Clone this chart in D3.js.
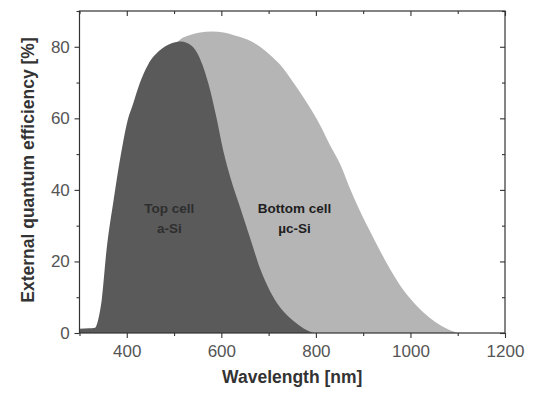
<!DOCTYPE html>
<html>
<head>
<meta charset="utf-8">
<script src="https://cdn.jsdelivr.net/npm/d3@7"></script>
<style>
  body { margin: 0; background: #fff; }
  svg { display: block; font-family: "Liberation Sans", Arial, sans-serif; }
</style>
</head>
<body>
<svg id="eqe-svg" width="533" height="394"></svg>
<script>
// wavelength [nm] and EQE [%]
var topWl  = [300, 320, 333, 340, 347, 357, 372, 389, 403, 412, 428, 445, 470, 495, 515, 535, 548, 560, 572, 590, 604, 619, 640, 661, 682, 700, 718, 735, 752, 775, 794];
var topEqe = [1.2, 1.3, 1.5, 4, 9.2, 23, 37, 51, 60, 63.5, 70, 75, 79, 81, 81.5, 80.5, 78.5, 75, 70, 60, 51, 43.5, 35, 26.5, 18, 12.5, 8.3, 5.5, 3.4, 1.2, 0];

var botWl  = [300, 330, 345, 370, 410, 450, 500, 513, 534, 555, 580, 605, 625, 655, 682, 705, 725, 756, 784, 809, 830, 852, 869, 890, 922, 958, 985, 1014, 1040, 1065, 1085, 1100];
var botEqe = [0.5, 1, 5, 30, 55, 70, 80, 82, 83.3, 84, 84.3, 84, 83.3, 82, 80, 77.5, 74.9, 69.3, 63.7, 58.1, 52.5, 47, 41.4, 35, 26.5, 17.6, 12, 7.5, 4.3, 2, 0.7, 0];

var xMajor = [400, 600, 800, 1000, 1200];
var xMinor = [300, 500, 700, 900, 1100];
var yMajor = [0, 20, 40, 60, 80];
var yMinor = [10, 30, 50, 70, 90];

var svg = d3.select("#eqe-svg"),
	margin = { top: 11, right: 28, bottom: 61, left: 79.5 },
	width = +svg.attr("width") - margin.left - margin.right,
	height = +svg.attr("height") - margin.top - margin.bottom,
	g = svg.append("g").attr("transform", "translate(" + margin.left + "," + margin.top + ")");

var x = d3.scaleLinear().domain([300, 1200]).range([0, width]);
var y = d3.scaleLinear().domain([0, 90]).range([height, 0]);

function toPts(wl, v) {
	var pts = [];
	for (var i = 0; i < wl.length; i++) pts.push([wl[i], v[i]]);
	return pts;
}

var area = d3.area()
	.x(function(d) { return x(d[0]); })
	.y0(y(0))
	.y1(function(d) { return y(d[1]); })
	.curve(d3.curveMonotoneX);

g.append("path").datum(toPts(botWl, botEqe)).attr("d", area).attr("fill", "#b5b5b5");
g.append("path").datum(toPts(topWl, topEqe)).attr("d", area).attr("fill", "#5a5a5a");

// frame
g.append("rect").attr("width", width).attr("height", height)
	.attr("fill", "none").attr("stroke", "#333").attr("stroke-width", 1.2);

var axisCol = "#333";
function ticks(axis, vals, len, labels) {
	axis.tickValues(vals).tickSizeInner(len).tickSizeOuter(0);
	axis.tickFormat(labels ? d3.format("d") : "");
	return axis;
}

var gx = g.append("g").attr("transform", "translate(0," + height + ")");
gx.append("g").call(ticks(d3.axisBottom(x), xMajor, 5, true));
gx.append("g").call(ticks(d3.axisBottom(x), xMinor, 3, false));

var gy = g.append("g");
gy.append("g").call(ticks(d3.axisLeft(y), yMajor, 5, true));
gy.append("g").call(ticks(d3.axisLeft(y), yMinor, 3, false));

// mirrored ticks pointing inward
g.append("g").call(ticks(d3.axisTop(x), xMajor, -5, false));
g.append("g").call(ticks(d3.axisTop(x), xMinor, -3, false));
var gr = g.append("g").attr("transform", "translate(" + width + ",0)");
gr.append("g").call(ticks(d3.axisRight(y), yMajor, -5, false));
gr.append("g").call(ticks(d3.axisRight(y), yMinor, -3, false));

g.selectAll(".domain").remove();
g.selectAll(".tick line").attr("stroke", axisCol).attr("stroke-width", 1.1);
g.selectAll(".tick text").attr("fill", "#555").style("font-size", "17px");
gx.selectAll(".tick text").attr("dy", "0.95em");
gy.selectAll(".tick text").attr("dx", "-0.1em");

// axis titles
svg.append("text")
	.attr("x", margin.left + width / 2).attr("y", 383)
	.attr("text-anchor", "middle")
	.style("font-size", "17.5px").style("font-weight", "bold").attr("fill", "#333")
	.text("Wavelength [nm]");

svg.append("text")
	.attr("transform", "translate(34," + (margin.top + 159) + ") rotate(-90)")
	.attr("text-anchor", "middle")
	.style("font-size", "17.5px").style("font-weight", "bold").attr("fill", "#333")
	.text("External quantum efficiency [%]");

// labels in the areas
var notes = [
	{ t: "Top cell", wl: 490, v: 33.5, c: "#2e2e2e" },
	{ t: "a-Si", wl: 490, v: 28, c: "#2e2e2e" },
	{ t: "Bottom cell", wl: 755, v: 33.5, c: "#1e1e1e" },
	{ t: "\u00b5c-Si", wl: 755, v: 28, c: "#1e1e1e" }
];
g.selectAll(".note").data(notes).enter().append("text")
	.attr("class", "note")
	.attr("x", function(d) { return x(d.wl); })
	.attr("y", function(d) { return y(d.v); })
	.attr("text-anchor", "middle")
	.style("font-size", "13.5px").style("font-weight", "bold")
	.attr("fill", function(d) { return d.c; })
	.text(function(d) { return d.t; });
</script>
</body>
</html>
